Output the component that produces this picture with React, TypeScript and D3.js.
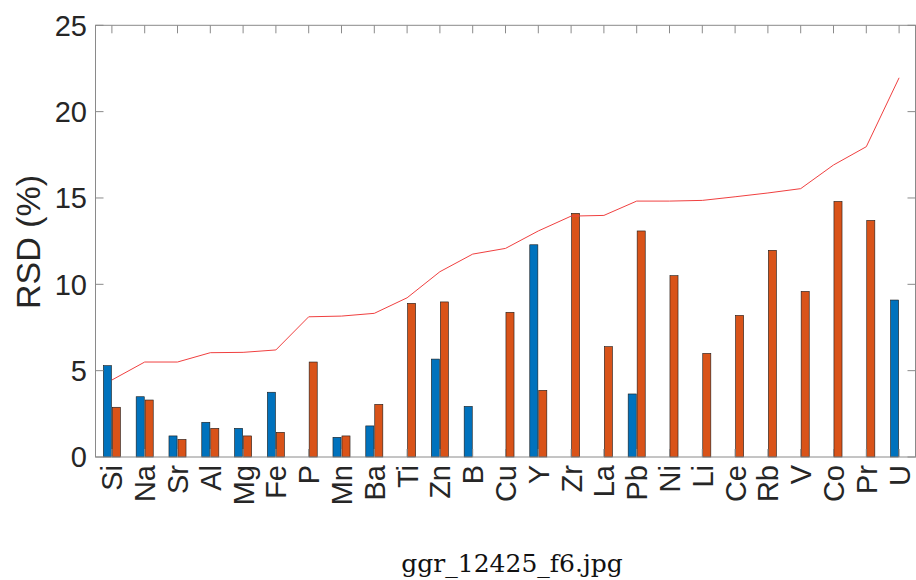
import React from "react";
import * as d3 from "d3";

const categories = ["Si","Na","Sr","Al","Mg","Fe","P","Mn","Ba","Ti","Zn","B","Cu","Y","Zr","La","Pb","Ni","Li","Ce","Rb","V","Co","Pr","U"];
const seriesBlue = [5.29,3.49,1.22,2.01,1.66,3.75,0,1.14,1.80,0,5.67,2.93,0,12.29,0,0,3.65,0,0,0,0,0,0,0,9.09];
const seriesOrange = [2.88,3.30,1.02,1.66,1.22,1.43,5.50,1.22,3.05,8.90,8.98,0,8.38,3.86,14.11,6.39,13.09,10.50,6.00,8.20,11.97,9.59,14.80,13.70,0];
const lineValues = [4.46,5.50,5.50,6.04,6.06,6.20,8.12,8.16,8.32,9.22,10.73,11.75,12.08,13.09,13.95,13.99,14.82,14.82,14.86,15.07,15.29,15.54,16.91,17.97,21.96];
const yTicks = [0,5,10,15,20,25];
const seriesKeys = ["blue","orange"];
const seriesColors: Record<string,string> = { blue: "#0072BD", orange: "#D95319" };

const W = 916, H = 580;
const L = 95.5, R = 915.5, T = 25.3, B = 457;

export default function App() {
  const x = d3.scaleBand<string>().domain(categories).range([L, R]).padding(0);
  const bw = x.bandwidth();
  const inner = d3.scaleBand<string>().domain(seriesKeys).range([bw * 0.24, bw * 0.76]).paddingInner(0.1).paddingOuter(0);
  const y = d3.scaleLinear().domain([0, 25]).range([B, T]);
  const cx = (c: string) => (x(c) as number) + bw / 2;
  const line = d3.line<number>().x((_, i) => cx(categories[i])).y(v => y(v));
  const font = "'Liberation Sans', Arial, Helvetica, sans-serif";
  const tickLen = 8;
  const axisColor = "#8a8a8a";
  const data: Record<string, number[]> = { blue: seriesBlue, orange: seriesOrange };

  return (
    <svg width={W} height={H} style={{ position: "absolute", left: 0, top: 0, background: "#fff" }}>
      <rect x={0} y={0} width={W} height={H} fill="#fff" />
      {seriesKeys.map(k =>
        data[k].map((v, i) => v > 0 ? (
          <rect key={k + i}
            x={(x(categories[i]) as number) + (inner(k) as number)}
            y={y(v)} width={inner.bandwidth()} height={y(0) - y(v)}
            fill={seriesColors[k]} stroke="#1a1a1a" strokeWidth={0.6} />
        ) : null)
      )}
      <path d={line(lineValues) || ""} fill="none" stroke="#f04040" strokeWidth={1} />
      {/* axes box */}
      <rect x={L} y={T} width={R - L} height={B - T} fill="none" stroke={axisColor} strokeWidth={1} />
      {categories.map(c => (
        <g key={"t" + c}>
          <line x1={cx(c)} x2={cx(c)} y1={B} y2={B - tickLen} stroke={axisColor} strokeWidth={1} />
          <line x1={cx(c)} x2={cx(c)} y1={T} y2={T + tickLen} stroke={axisColor} strokeWidth={1} />
          <text transform={`translate(${cx(c)},465) rotate(-90)`} textAnchor="end" dy="0.36em"
            fontFamily={font} fontSize={29} fill="#262626">{c}</text>
        </g>
      ))}
      {yTicks.map(t => (
        <g key={"y" + t}>
          <line x1={L} x2={L + tickLen} y1={y(t)} y2={y(t)} stroke={axisColor} strokeWidth={1} />
          <line x1={R} x2={R - tickLen} y1={y(t)} y2={y(t)} stroke={axisColor} strokeWidth={1} />
          <text x={87} y={y(t)} dy="0.36em" textAnchor="end" fontFamily={font} fontSize={29} fill="#262626">{t}</text>
        </g>
      ))}
      <text transform={`translate(40,242) rotate(-90)`} textAnchor="middle" fontFamily={font} fontSize={34} fill="#262626">RSD (%)</text>
      <text x={512} y={572} textAnchor="middle" fontFamily="'DejaVu Serif', serif" fontSize={25} fill="#111">ggr_12425_f6.jpg</text>
    </svg>
  );
}
